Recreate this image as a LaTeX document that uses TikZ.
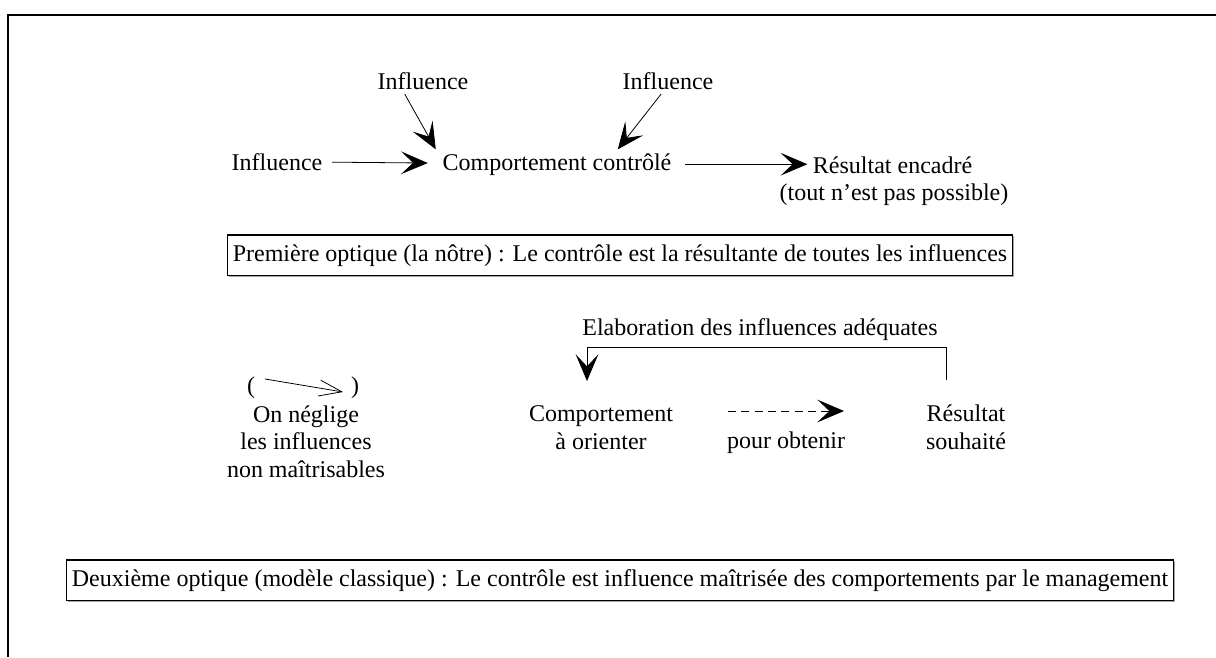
\documentclass[tikz,border=0pt]{standalone}
\usepackage{fontspec}
\setmainfont{Liberation Serif}
\usetikzlibrary{arrows.meta,calc,positioning,shadows}

\begin{document}
\begin{tikzpicture}[
    x=0.75pt, y=-0.75pt,
    font=\fontsize{18}{20.5}\selectfont,
    every node/.style={inner sep=2pt},
    lbl/.style={
        anchor=base,
        align=center
    },
    optbox/.style={
        draw,
        anchor=base,
        line width=1.4pt,
        inner xsep=4pt,
        inner ysep=7pt,
        fill=white,
        drop shadow={shadow xshift=0.8pt, shadow yshift=-0.8pt, fill=black!35, opacity=1}
    },
    arr/.style={-{Stealth[length=20pt, width=17pt, inset=9pt]}, line width=0.6pt},
    thinarr/.style={-{Straight Barb[length=17pt, width=12pt]}, line width=0.6pt},
    frame/.style={line width=1.5pt}
]
    \useasboundingbox (0,0) rectangle (1216,657);
    %% Cadre
    \draw[frame] (8,657) -- (8,15) -- (1216,15);

    %% Premiere optique
    \node[lbl] (inftl) at (423,89) {Influence};
    \node[lbl] (inftr) at (668,89) {Influence};
    \node[lbl] (infl) at (277,170) {Influence};
    \node[lbl] (comp) at (557,170) {Comportement contrôlé};
    \node[lbl, anchor=base west] (resenc) at (810,173) {Résultat encadré};
    \node[lbl] (resnote) at (894,200) {(tout n'est pas possible)};
    \node[optbox] (opt1) at (620,261) {Première optique (la nôtre) : Le contrôle est la résultante de toutes les influences};

    \draw[arr, shorten <=5pt, shorten >=9pt] (infl) -- (comp);
    \draw[arr, shorten <=8pt, shorten >=2pt] (comp) -- (resenc.west |- comp);
    \draw[arr] ($(inftl.south west)+(30,2)$) -- ($(comp.north west)+(-4,-1)$);
    \draw[arr] ($(inftr.south)+(-7,2)$) -- ($(comp.north west)+(178,-1)$);

    %% Deuxieme optique
    \node[lbl] (elab) at (760,335) {Elaboration des influences adéquates};
    \node (lpar) at (251,388) {(};
    \node (rpar) at (355,388) {)};
    \node[lbl] (negl) at (306,477) {On néglige\\les influences\\non maîtrisables};
    \node[lbl] (compor) at (601,449) {Comportement\\à orienter};
    \node[lbl] (obt) at (786,448) {pour obtenir};
    \node[lbl] (ressou) at (966,449) {Résultat\\souhaité};
    \node[optbox] (opt2) at (620,586) {Deuxième optique (modèle classique) : Le contrôle est influence maîtrisée des comportements par le management};

    \coordinate (fbR) at (946,380);
    \coordinate (fbL) at (587,381);
    \coordinate (dashA) at (728,411);
    \coordinate (dashB) at (844,411);

    \draw[thinarr] ($(lpar)+(14,-9)$) -- ($(rpar)+(-12,4)$);
    \draw[arr] (fbR) -- ++(0,-33) -| (fbL);
    \draw[arr, dash pattern=on 6pt off 4pt] (dashA) -- (dashB);
\end{tikzpicture}
\end{document}
